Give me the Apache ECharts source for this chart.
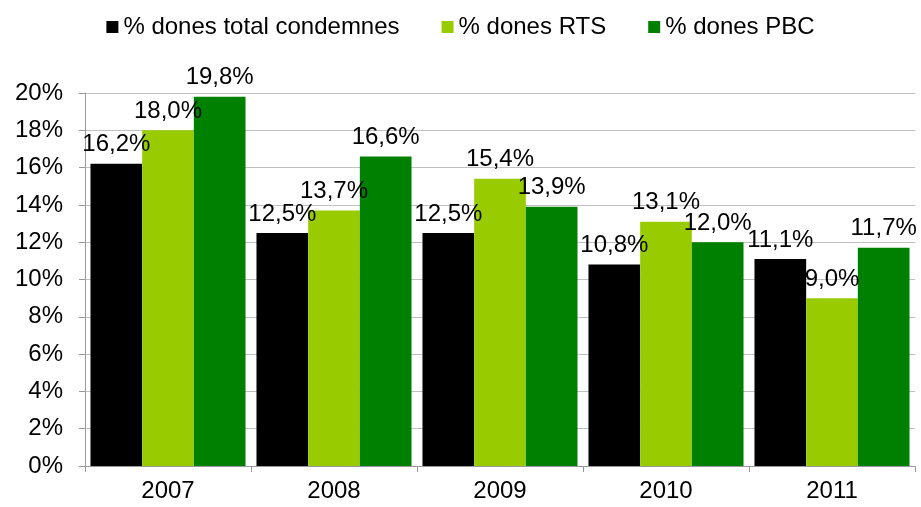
<!DOCTYPE html>
<html>
<head>
<meta charset="utf-8">
<script src="https://cdn.jsdelivr.net/npm/echarts@6/dist/echarts.min.js"></script>
<style>
  html, body { margin: 0; padding: 0; background: #fff; }
  #chart { width: 921px; height: 507px; }
</style>
</head>
<body>
<div id="chart"></div>
<script>
// data
const years = ['2007', '2008', '2009', '2010', '2011']
const totalCondemnes = [16.2, 12.5, 12.5, 10.8, 11.1]
const donesRTS = [18.0, 13.7, 15.4, 13.1, 9.0]
const donesPBC = [19.8, 16.6, 13.9, 12.0, 11.7]

const font = 'Liberation Sans, Arial, sans-serif'
const fmt = v => v.toFixed(1).replace('.', ',') + '%'

const chart = echarts.init(document.getElementById('chart'))

const mkSeries = (name, data, color) => ({
  name,
  type: 'bar',
  data,
  barGap: '0%',
  barCategoryGap: '6.6%',
  itemStyle: { color },
  label: {
    show: true,
    position: 'top',
    distance: 7,
    color: '#000',
    fontFamily: font,
    fontSize: 24,
    formatter: p => fmt(p.value)
  }
})

chart.setOption({
  animation: false,
  legend: {
    top: 10,
    left: 'center',
    itemWidth: 12,
    itemHeight: 12,
    itemGap: 42,
    icon: 'rect',
    textStyle: { fontFamily: font, fontSize: 24, color: '#000' },
    data: ['% dones total condemnes', '% dones RTS', '% dones PBC']
  },
  grid: { left: 85, right: 6, top: 93, bottom: 41 },
  xAxis: {
    type: 'category',
    data: years,
    axisLine: { lineStyle: { color: '#999' } },
    axisTick: { show: true, length: 6, lineStyle: { color: '#999' } },
    axisLabel: { color: '#000', fontFamily: font, fontSize: 24, margin: 13 }
  },
  yAxis: {
    type: 'value',
    min: 0,
    max: 20,
    interval: 2,
    axisLine: { show: true, lineStyle: { color: '#999' } },
    axisTick: { show: true, length: 6, lineStyle: { color: '#999' } },
    axisLabel: { color: '#000', fontFamily: font, fontSize: 24, margin: 22, formatter: v => v + '%' },
    splitLine: { lineStyle: { color: '#c0c0c0' } }
  },
  series: [
    mkSeries('% dones total condemnes', totalCondemnes, '#000000'),
    mkSeries('% dones RTS', donesRTS, '#99cc00'),
    mkSeries('% dones PBC', donesPBC, '#008000')
  ]
})
</script>
</body>
</html>
